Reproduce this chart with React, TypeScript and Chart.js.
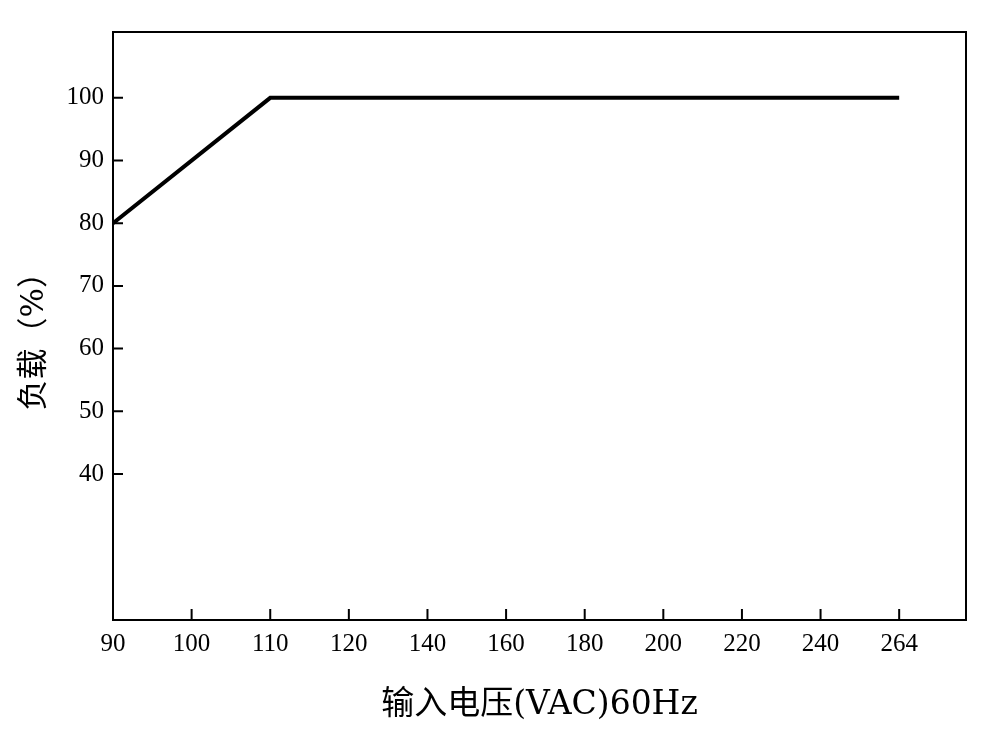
import React, { useEffect, useRef } from "react";
import { Chart, registerables } from "chart.js";
Chart.register(...registerables);

const xTickLabels = ["90", "100", "110", "120", "140", "160", "180", "200", "220", "240", "264"];
const yTickValues = [40, 50, 60, 70, 80, 90, 100];
const seriesXIndex = [0, 2, 10];
const seriesY = [80, 100, 100];
const xTitle = "输入电压(VAC)60Hz";
const yTitle = "负载（%）\u3000";

const TICK_FONT = '"Liberation Serif", "Noto Sans CJK SC", serif';
const TITLE_FONT = '"DejaVu Serif", "Noto Sans CJK SC", serif';

export default function App() {
  const ref = useRef<HTMLCanvasElement>(null);
  useEffect(() => {
    if (!ref.current) return;
    const frame = {
      id: "frame",
      afterDatasetsDraw(chart: any) {
        const { ctx, chartArea } = chart;
        const xs = chart.scales.x;
        const ys = chart.scales.y;
        ctx.save();
        ctx.strokeStyle = "#000";
        ctx.lineWidth = 2;
        ctx.strokeRect(chartArea.left, chartArea.top, chartArea.right - chartArea.left, chartArea.bottom - chartArea.top);
        ctx.beginPath();
        xs.ticks.forEach((t: any) => {
          const px = xs.getPixelForValue(t.value);
          ctx.moveTo(px, chartArea.bottom);
          ctx.lineTo(px, chartArea.bottom - 11);
        });
        ys.ticks.forEach((t: any) => {
          const py = ys.getPixelForValue(t.value);
          ctx.moveTo(chartArea.left, py);
          ctx.lineTo(chartArea.left + 10, py);
        });
        ctx.stroke();
        ctx.restore();
      },
    };
    const chart = new Chart(ref.current, {
      type: "line",
      data: {
        datasets: [
          {
            data: seriesXIndex.map((x, i) => ({ x, y: seriesY[i] })),
            borderColor: "#000",
            borderWidth: 4,
            borderCapStyle: "butt",
            pointRadius: 0,
            tension: 0,
            fill: false,
          },
        ],
      },
      options: {
        animation: false,
        responsive: true,
        maintainAspectRatio: false,
        layout: { padding: { left: 0, top: 32, right: 27, bottom: 0 } },
        plugins: { legend: { display: false }, tooltip: { enabled: false } },
        scales: {
          x: {
            type: "linear",
            min: 0,
            max: 10.85,
            afterBuildTicks: (s: any) => {
              s.ticks = xTickLabels.map((_, i) => ({ value: i }));
            },
            afterFit: (s: any) => {
              s.height = 117;
            },
            ticks: {
              callback: (v: any) => xTickLabels[v] ?? "",
              font: { family: TICK_FONT, size: 25 },
              color: "#000",
              padding: 9,
              autoSkip: false,
              maxRotation: 0,
            },
            grid: { display: false, drawTicks: false },
            border: { display: false },
            title: {
              display: true,
              text: xTitle,
              font: { family: TITLE_FONT, size: 33 },
              color: "#000",
              padding: { top: 10, bottom: 12 },
            },
          },
          y: {
            type: "linear",
            min: 16.7,
            max: 110.5,
            afterBuildTicks: (s: any) => {
              s.ticks = yTickValues.map((v) => ({ value: v }));
            },
            afterFit: (s: any) => {
              s.width = 113;
            },
            ticks: {
              font: { family: TICK_FONT, size: 25 },
              color: "#000",
              padding: 9,
            },
            grid: { display: false, drawTicks: false },
            border: { display: false },
            title: {
              display: true,
              text: yTitle,
              font: { family: TITLE_FONT, size: 31 },
              color: "#000",
              padding: { top: 16, bottom: 0 },
            },
          },
        },
      },
      plugins: [frame],
    } as any);
    return () => chart.destroy();
  }, []);
  return (
    <div style={{ position: "absolute", left: 0, top: 0, width: 993, height: 737, background: "#fff" }}>
      <canvas ref={ref} />
    </div>
  );
}
